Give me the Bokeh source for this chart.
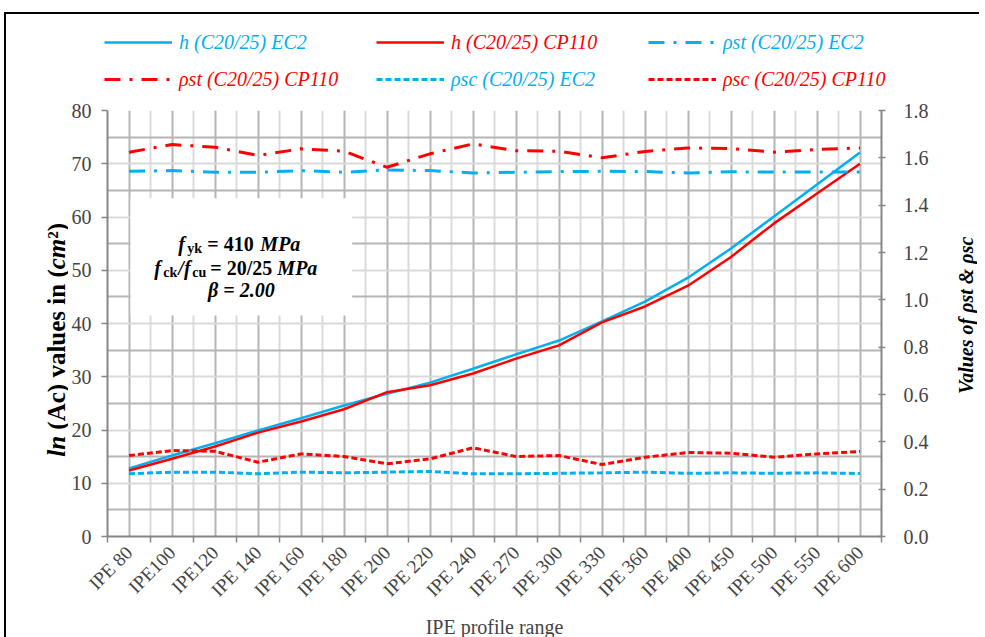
from math import pi
from bokeh.plotting import figure
from bokeh.layouts import column, row
from bokeh.models import (Range1d, LinearAxis, FixedTicker, PrintfTickFormatter,
                          Legend, LegendItem, BoxAnnotation, Label)
from bokeh.embed import file_html
from bokeh.resources import INLINE

# ---------------- data ----------------
profiles = ["IPE 80", "IPE100", "IPE120", "IPE 140", "IPE 160", "IPE 180", "IPE 200",
            "IPE 220", "IPE 240", "IPE 270", "IPE 300", "IPE 330", "IPE 360", "IPE 400",
            "IPE 450", "IPE 500", "IPE 550", "IPE 600"]
h_ec2 = [12.8, 15.2, 17.5, 19.9, 22.2, 24.6, 26.8, 28.9, 31.5, 34.2, 36.8, 40.4,
         44.1, 48.6, 54.1, 60.1, 66.1, 72.1]
h_cp110 = [12.4, 14.6, 16.9, 19.5, 21.6, 23.9, 27.1, 28.4, 30.6, 33.4, 35.9, 40.2,
           43.2, 47.1, 52.5, 58.8, 64.4, 70.0]
rho_st_ec2 = [1.543, 1.546, 1.539, 1.539, 1.546, 1.539, 1.549, 1.546, 1.536, 1.539,
              1.542, 1.543, 1.542, 1.536, 1.541, 1.540, 1.540, 1.540]
rho_st_cp110 = [1.624, 1.656, 1.645, 1.610, 1.638, 1.628, 1.560, 1.617, 1.659, 1.630,
                1.628, 1.600, 1.627, 1.642, 1.639, 1.624, 1.635, 1.642]
rho_sc_ec2 = [0.265, 0.272, 0.272, 0.265, 0.272, 0.269, 0.272, 0.275, 0.265, 0.265,
              0.267, 0.269, 0.272, 0.267, 0.269, 0.267, 0.269, 0.266]
rho_sc_cp110 = [0.342, 0.363, 0.360, 0.314, 0.349, 0.338, 0.307, 0.328, 0.375, 0.338,
                0.342, 0.304, 0.335, 0.355, 0.352, 0.335, 0.349, 0.359]
left_ticks = [0, 10, 20, 30, 40, 50, 60, 70, 80]
right_ticks = [0.0, 0.2, 0.4, 0.6, 0.8, 1.0, 1.2, 1.4, 1.6, 1.8]
series_labels = ["h (C20/25) EC2", "h (C20/25) CP110", "ρst (C20/25) EC2",
                 "ρst (C20/25) CP110", "ρsc (C20/25) EC2", "ρsc (C20/25) CP110"]
right_title = "Values of ρst &  ρsc"
# left title pieces: (text, style)
left_title = [("ln", "bold italic"), ("(Ac) values in (", "bold"),
              ("cm", "bold italic"), ("²)", "bold")]

BLUE = "#00B0F0"
RED = "#FF0000"
AXIS = "#868686"
FONT = "Liberation Serif"
DASHDOT = "16 9 3 9"
DASH = "6 3"

xs = list(range(len(profiles)))
bounds = [i - 0.5 for i in range(len(profiles) + 1)]

# ---------------- main chart ----------------
p = figure(frame_width=774, frame_height=426,
           x_range=Range1d(-0.5, len(profiles) - 0.5), y_range=Range1d(0, 80),
           output_backend="svg", toolbar_location=None,
           min_border_left=39, min_border_top=12, min_border_right=50, min_border_bottom=96)
p.outline_line_color = None
p.background_fill_color = "white"
p.border_fill_color = "white"
p.extra_y_ranges = {"rho": Range1d(0, 1.8)}

# grids
p.xgrid.ticker = FixedTicker(ticks=xs, minor_ticks=bounds)
p.xgrid.grid_line_color = "#b5b5b5"
p.xgrid.grid_line_width = 2
p.xgrid.minor_grid_line_color = "#dadada"
p.xgrid.minor_grid_line_width = 2
p.ygrid.ticker = FixedTicker(ticks=[5, 15, 25, 35, 45, 55, 65, 75], minor_ticks=left_ticks)
p.ygrid.grid_line_color = "#b5b5b5"
p.ygrid.grid_line_width = 2
p.ygrid.minor_grid_line_color = "#dadada"
p.ygrid.minor_grid_line_width = 2

# x axis
xa = p.xaxis[0]
xa.ticker = FixedTicker(ticks=xs, minor_ticks=bounds)
xa.major_label_overrides = {i: s for i, s in enumerate(profiles)}
xa.major_label_orientation = pi / 4
xa.major_tick_line_color = None
xa.major_tick_out = 0
xa.major_tick_in = 0
xa.minor_tick_line_color = AXIS
xa.minor_tick_line_width = 1.5
xa.minor_tick_out = 6
xa.minor_tick_in = 0
xa.axis_line_color = AXIS
xa.axis_line_width = 2
xa.major_label_standoff = 7
xa.major_label_text_font = FONT
xa.major_label_text_font_size = "19px"
xa.axis_label = "IPE profile range"
xa.axis_label_text_font = FONT
xa.axis_label_text_font_style = "normal"
xa.axis_label_text_font_size = "20px"
xa.axis_label_standoff = 5

# left axis
ya = p.yaxis[0]
ya.ticker = FixedTicker(ticks=left_ticks)
ya.axis_line_color = AXIS
ya.axis_line_width = 2
ya.major_tick_line_color = AXIS
ya.major_tick_line_width = 1.5
ya.major_tick_out = 6
ya.major_tick_in = 0
ya.minor_tick_line_color = None
ya.major_label_standoff = 10
ya.major_label_text_font = FONT
ya.major_label_text_font_size = "20px"

# right axis (ticks and numbers)
ra = LinearAxis(y_range_name="rho", ticker=FixedTicker(ticks=right_ticks),
                formatter=PrintfTickFormatter(format="%.1f"))
ra.axis_line_color = AXIS
ra.axis_line_width = 2
ra.major_tick_line_color = AXIS
ra.major_tick_line_width = 1.5
ra.major_tick_out = 4
ra.major_tick_in = 3
ra.minor_tick_line_color = None
ra.major_label_standoff = 18
ra.major_label_text_font = FONT
ra.major_label_text_font_size = "20px"
p.add_layout(ra, "right")

# annotation box (white, hides the grid behind the text block)
p.add_layout(BoxAnnotation(left=0.035, right=5.19, bottom=41.5, top=63.5,
                           fill_color="white", fill_alpha=1.0, line_color=None))

# series
r_h_ec2 = p.line(xs, h_ec2, line_color=BLUE, line_width=2.5)
r_h_cp = p.line(xs, h_cp110, line_color=RED, line_width=2.5)
r_st_ec2 = p.line(xs, rho_st_ec2, line_color=BLUE, line_width=3, line_dash=DASHDOT,
                  y_range_name="rho")
r_st_cp = p.line(xs, rho_st_cp110, line_color=RED, line_width=3, line_dash=DASHDOT,
                 y_range_name="rho")
r_sc_ec2 = p.line(xs, rho_sc_ec2, line_color=BLUE, line_width=3, line_dash=DASH,
                  y_range_name="rho")
r_sc_cp = p.line(xs, rho_sc_cp110, line_color=RED, line_width=3, line_dash=DASH,
                 y_range_name="rho")

# text block inside the white box
cx = 2.59
def txt(text, y, dx, size="20px", style="bold italic", dy=0, align="left"):
    p.add_layout(Label(x=cx, y=y, x_offset=dx, y_offset=dy, text=text,
                       text_font=FONT, text_font_style=style, text_font_size=size,
                       text_color="black", text_baseline="alphabetic", text_align=align))

y1, y2, y3 = 55.0, 50.5, 46.2
txt("f", y1, -62)
txt("yk", y1, -53, size="14px", style="bold", dy=-5)
txt("= 410", y1, -33, style="bold")
txt("MPa", y1, 20)
txt("f", y2, -86)
txt("ck", y2, -77, size="14px", style="bold", dy=-5)
txt("/f", y2, -62)
txt("cu", y2, -48, size="14px", style="bold", dy=-5)
txt("= 20/25", y2, -30, style="bold")
txt("MPa", y2, 37)
txt("β = 2.00", y3, 1, align="center")

def strip(width):
    s = figure(frame_width=width, frame_height=426, x_range=Range1d(0, 1),
               y_range=Range1d(0, 80), output_backend="svg", toolbar_location=None,
               x_axis_location=None, y_axis_location=None,
               min_border_left=0, min_border_right=0, min_border_top=12, min_border_bottom=96)
    s.outline_line_color = None
    s.grid.visible = False
    s.background_fill_color = "white"
    s.border_fill_color = "white"
    return s

# ---------------- left title strip (mixed bold / bold italic) ----------------
ls = strip(62)
offsets = [0, 27, 187.4, 218]
for (text, style), off in zip(left_title, offsets):
    ls.add_layout(Label(x=0.80, y=15.0, y_offset=off, text=text, angle=pi / 2,
                        text_align="left", text_baseline="middle",
                        text_font=FONT, text_font_style=style, text_font_size="25px",
                        text_color="black"))

# ---------------- right title strip (reads bottom to top) ----------------
tp = strip(46)
tp.add_layout(Label(x=0.75, y=42.0, text=right_title, angle=pi / 2,
                    text_align="center", text_baseline="middle",
                    text_font=FONT, text_font_style="bold italic", text_font_size="20px",
                    text_color="black"))

# ---------------- legend strip (above the chart) ----------------
# its series copies lie outside the strip's y range, only the legend shows
lp = figure(width=973, height=84, x_range=Range1d(0, 1), y_range=Range1d(-10, -9),
            output_backend="svg", toolbar_location=None,
            x_axis_location=None, y_axis_location=None, min_border=0)
lp.outline_line_color = None
lp.grid.visible = False
lp.background_fill_color = "white"
lp.border_fill_color = "white"

series = [h_ec2, h_cp110, rho_st_ec2, rho_st_cp110, rho_sc_ec2, rho_sc_cp110]
styles = [
    (BLUE, None, 2.5), (RED, None, 2.5), (BLUE, DASHDOT, 3),
    (RED, DASHDOT, 3), (BLUE, DASH, 3), (RED, DASH, 3),
]
legend_pos = [(98, 44), (370, 44), (642, 44), (98, 7), (370, 7), (642, 7)]
for label, ys, (col, dash, lw), (vx, vy) in zip(series_labels, series, styles, legend_pos):
    kw = dict(line_color=col, line_width=lw)
    if dash:
        kw["line_dash"] = dash
    rr = lp.line(xs, ys, **kw)
    lg = Legend(items=[LegendItem(label=label, renderers=[rr])],
                location=(vx, vy), orientation="horizontal",
                background_fill_alpha=0, border_line_color=None,
                padding=0, margin=0, spacing=0,
                glyph_width=68, glyph_height=24, label_height=24, label_standoff=7,
                label_text_font=FONT, label_text_font_style="italic",
                label_text_font_size="20px", label_text_color=col)
    lp.add_layout(lg)

layout = column(row(lp), row(ls, p, tp, spacing=0), spacing=0,
                styles={"margin-left": "4px", "margin-top": "12px",
                        "border-left": "2px solid black", "border-top": "2px solid black"})

open("out.html", "w").write(file_html(layout, INLINE))
